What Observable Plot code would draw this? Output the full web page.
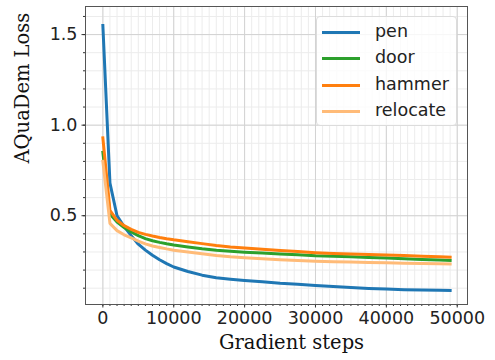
<!DOCTYPE html>
<html><head><meta charset="utf-8">
<script src="https://cdn.jsdelivr.net/npm/d3@7"></script>
<script src="https://cdn.jsdelivr.net/npm/@observablehq/plot@0.6"></script>
<style>
body{margin:0;background:#fff;}
#wrap{position:relative;width:495px;height:360px;}
#legend{position:absolute;left:316px;top:16px;width:141px;height:110px;border:1px solid #dcdcdc;border-radius:4px;background:rgba(255,255,255,0.8);box-sizing:border-box;font-family:"DejaVu Sans";font-size:17.5px;color:#222;}
.item{position:absolute;left:0;height:20px;}
.item .sw{position:absolute;left:5px;width:38px;height:3px;top:9px;}
.item .lb{position:absolute;left:58px;top:-1px;white-space:nowrap;line-height:20px;}
</style></head><body><div id="wrap"></div>
<script>
const steps = [0,1000,2000,3000,4000,5000,6000,7000,8000,9000,10000,12000,14000,16000,18000,20000,22500,25000,27500,30000,32500,35000,37500,40000,42500,45000,47500,49000];
const pen = [1.55,0.68,0.50,0.44,0.39,0.343,0.31,0.282,0.257,0.236,0.217,0.192,0.172,0.158,0.150,0.143,0.135,0.127,0.122,0.115,0.109,0.104,0.099,0.096,0.092,0.090,0.088,0.087];
const door = [0.85,0.51,0.465,0.435,0.41,0.39,0.374,0.362,0.353,0.345,0.338,0.328,0.318,0.310,0.304,0.299,0.294,0.289,0.285,0.279,0.276,0.273,0.269,0.266,0.263,0.259,0.255,0.253];
const hammer = [0.93,0.53,0.475,0.445,0.425,0.408,0.397,0.388,0.380,0.373,0.367,0.357,0.346,0.336,0.328,0.322,0.315,0.308,0.302,0.296,0.292,0.289,0.286,0.283,0.280,0.277,0.273,0.271];
const relocate = [0.80,0.458,0.418,0.395,0.378,0.360,0.345,0.333,0.325,0.317,0.310,0.300,0.290,0.280,0.273,0.268,0.263,0.257,0.253,0.249,0.246,0.244,0.242,0.240,0.238,0.236,0.235,0.234];
const seriesNames = ["pen","door","hammer","relocate"];
const seriesColors = ["#1f77b4","#2ca02c","#ff7f0e","#ffbb78"];
const xTicks = [0,10000,20000,30000,40000,50000];
const yTicks = [0.5,1.0,1.5];
const xMinor = d3.range(0, 50001, 1000);
const yMinor = [0.1,0.2,0.3,0.4,0.5,0.6,0.7,0.8,0.9,1.0,1.1,1.2,1.3,1.4,1.5,1.6];
const xLabel = "Gradient steps";
const yLabel = "AQuaDem Loss";

const values = [pen, door, hammer, relocate];
const rows = [];
seriesNames.forEach((name, i) => steps.forEach((s, j) => rows.push({step: s, loss: values[i][j], series: name})));

const chart = Plot.plot({
  width: 495, height: 360,
  marginLeft: 85, marginRight: 28, marginTop: 6, marginBottom: 56,
  x: {domain: [-2450, 51450]},
  y: {domain: [0.01, 1.655]},
  color: {domain: seriesNames, range: seriesColors},
  style: {fontFamily: "DejaVu Sans", fontSize: "17.5px", color: "#222", background: "white"},
  marks: [
    Plot.gridX(xMinor, {stroke: "#ececec", strokeOpacity: 1}),
    Plot.gridY(yMinor, {stroke: "#ececec", strokeOpacity: 1}),
    Plot.gridX(xTicks, {stroke: "#d2d2d2", strokeOpacity: 1}),
    Plot.gridY(yTicks, {stroke: "#d2d2d2", strokeOpacity: 1}),
    Plot.axisX(xMinor, {tickSize: 2, tickFormat: () => "", label: null, stroke: "#333"}),
    Plot.axisY(yMinor, {tickSize: 2, tickFormat: () => "", label: null, stroke: "#333"}),
    Plot.axisX(xTicks, {tickSize: 3.5, tickPadding: 4, tickFormat: d => String(d), label: null, stroke: "#333"}),
    Plot.axisY(yTicks, {tickSize: 3.5, tickPadding: 4.5, tickFormat: d => d.toFixed(1), label: null, stroke: "#333"}),
    Plot.line(rows, {x: "step", y: "loss", stroke: "series", z: "series", strokeWidth: 3, strokeLinecap: "square"}),
    Plot.frame({stroke: "#555"}),
    Plot.text([xLabel], {frameAnchor: "bottom", dy: 44, dx: 15, fontFamily: "DejaVu Serif", fontSize: 19.5, fill: "#111"}),
    Plot.text([yLabel], {frameAnchor: "left", rotate: -90, dx: -63, dy: 8, fontFamily: "DejaVu Serif", fontSize: 19.5, fill: "#111"})
  ]
});
const wrap = document.getElementById("wrap");
wrap.appendChild(chart);

const legend = document.createElement("div");
legend.id = "legend";
seriesNames.forEach((name, i) => {
  const it = document.createElement("div");
  it.className = "item";
  it.style.top = (5 + i * 26.4) + "px";
  it.innerHTML = `<div class="sw" style="background:${seriesColors[i]}"></div><div class="lb">${name}</div>`;
  legend.appendChild(it);
});
wrap.appendChild(legend);
</script>
</body></html>
